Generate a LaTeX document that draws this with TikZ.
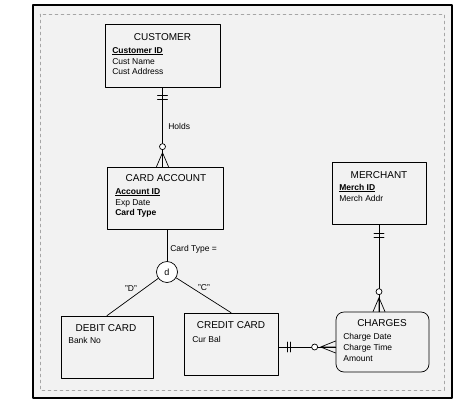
\documentclass[tikz,border=0pt]{standalone}
\usepackage{fontspec}
\setmainfont{Liberation Sans}
\usepackage{tikz}
\usetikzlibrary{calc}
\usetikzlibrary{positioning}
\tikzstyle{every path}=[line width=0.7pt,line cap=round,line join=round]
\tikzstyle{entity}=[draw,rectangle,inner sep=0pt]
\tikzstyle{ttl}=[anchor=base,inner sep=0pt,font=\fontsize{10}{12}\selectfont]
\tikzstyle{attr}=[anchor=base west,inner sep=0pt,font=\fontsize{8.5}{10}\selectfont]
\tikzstyle{lbl}=[inner sep=0pt,font=\fontsize{8.5}{10}\selectfont]

\begin{document}
\begin{tikzpicture}[x=1pt,y=-1pt]
\useasboundingbox (0,0) rectangle (474,413);
\draw [line width=1.2pt,fill=black!5] (33,5) rectangle (452,398);
\draw [black!35,dashed,line width=0.3pt] (40,14) rectangle (444,390);

% entities
\node [entity,minimum width=115pt,minimum height=63pt] (customer) at (162.5,55.5) {};
\node [ttl] (customerT) at (162.5,40) {CUSTOMER};
\node [attr] (customerA) at (112,53) {\underline{\textbf{Customer ID}}};
\node [attr] (customerB) at (112,64) {Cust Name};
\node [attr] (customerC) at (112,74.5) {Cust Address};

\node [entity,minimum width=116pt,minimum height=62pt] (cardacct) at (165,198) {};
\node [ttl] (cardacctT) at (166,181) {CARD ACCOUNT};
\node [attr] (cardacctA) at (115,194) {\underline{\textbf{Account ID}}};
\node [attr] (cardacctB) at (115,205) {Exp Date};
\node [attr] (cardacctC) at (115,215.5) {\textbf{Card Type}};

\node [entity,minimum width=94pt,minimum height=62pt] (merchant) at (379,193) {};
\node [ttl] (merchantT) at (379,178) {MERCHANT};
\node [attr] (merchantA) at (339,190) {\underline{\textbf{Merch ID}}};
\node [attr] (merchantB) at (339,201) {Merch Addr};

\node [entity,minimum width=92pt,minimum height=62pt] (debit) at (107,347) {};
\node [ttl] (debitT) at (106,331) {DEBIT CARD};
\node [attr] (debitA) at (68,343) {Bank No};

\node [entity,minimum width=94pt,minimum height=62pt] (credit) at (231,344) {};
\node [ttl] (creditT) at (231,328) {CREDIT CARD};
\node [attr] (creditA) at (192,342) {Cur Bal};

\node [entity,rounded corners=8pt,minimum width=93pt,minimum height=60pt] (charges) at (382.5,342) {};
\node [ttl] (chargesT) at (382,326) {CHARGES};
\node [attr] (chargesA) at (343,339) {Charge Date};
\node [attr] (chargesB) at (343,350) {Charge Time};
\node [attr] (chargesC) at (343,361) {Amount};

% subtype circle
\node [draw,circle,minimum size=21pt,inner sep=0pt,fill=white,font=\fontsize{9}{10}\selectfont] (subtype) at (167,272) {d};
\draw (subtype.north) -- (subtype.north |- cardacct.south);
\draw (subtype) -- (debit.north);
\draw (subtype) -- (credit.north);
\node [lbl,anchor=base west] (cardtype) at (170,251) {Card Type =};
\node [lbl] (dval) at (131,289) {"D"};
\node [lbl] (cval) at (204,288) {"C"};

% Holds
\draw (customer.south) -- (customer.south |- cardacct.north);
\draw ($(customer.south)+(-5,8)$) -- ++(10,0);
\draw ($(customer.south)+(-5,12)$) -- ++(10,0);
\draw [fill=white] ($(customer.south |- cardacct.north)+(0,-20)$) circle (3pt);
\draw ($(customer.south |- cardacct.north)+(0,-14)$) coordinate (hf) -- +(-6,14) (hf) -- +(0,14) (hf) -- +(6,14);
\node [lbl,anchor=base west] (holds) at (168,129) {Holds};

% merchant - charges
\draw (merchant.south) -- (merchant.south |- charges.north);
\draw ($(merchant.south)+(-5,9)$) -- ++(10,0);
\draw ($(merchant.south)+(-5,13)$) -- ++(10,0);
\draw [fill=white] ($(merchant.south |- charges.north)+(0,-20)$) circle (3pt);
\draw ($(merchant.south |- charges.north)+(0,-14)$) coordinate (mf) -- +(-6,14) (mf) -- +(0,14) (mf) -- +(6,14);

% credit card - charges
\coordinate (cl) at ([yshift=-3pt]credit.east);
\draw (cl) -- (cl -| charges.west);
\draw ($(cl)+(9,-5)$) -- ++(0,10);
\draw ($(cl)+(12,-5)$) -- ++(0,10);
\draw [fill=white] ($(cl -| charges.west)+(-21,0)$) circle (3pt);
\draw ($(cl -| charges.west)+(-15,0)$) coordinate (cf) -- +(15,-6) (cf) -- +(15,0) (cf) -- +(15,6);
\end{tikzpicture}
\end{document}
